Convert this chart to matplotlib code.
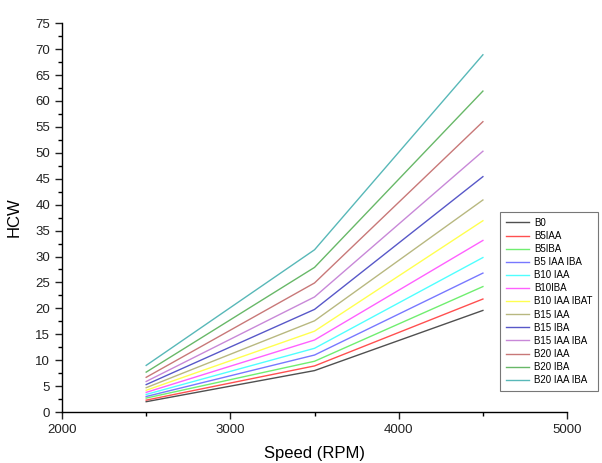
import matplotlib
matplotlib.use('Agg')
import matplotlib.pyplot as plt
from matplotlib.ticker import MultipleLocator

plt.rcParams['font.family'] = ['Liberation Sans', 'DejaVu Sans']

# ── data ───────────────────────────────────────────────────────────────────
speed = [2500, 3500, 4500]

labels = ['B0', 'B5IAA', 'B5IBA', 'B5 IAA IBA', 'B10 IAA', 'B10IBA',
          'B10 IAA IBAT', 'B15 IAA', 'B15 IBA', 'B15 IAA IBA',
          'B20 IAA', 'B20 IBA', 'B20 IAA IBA']

hcw_2500 = [2.0, 2.3, 2.7, 3.0, 3.4, 3.8, 4.2, 4.7, 5.3, 5.9, 6.7, 7.7, 9.0]
hcw_3500 = [8.0, 8.9, 9.8, 11.0, 12.3, 13.9, 15.6, 17.6, 19.8, 22.2, 24.9, 27.9, 31.3]
hcw_4500 = [19.6, 21.8, 24.2, 26.8, 29.8, 33.1, 36.9, 40.9, 45.4, 50.3, 56.0, 61.9, 68.9]

colors = ['#505050', '#ff5050', '#70ee70', '#7878ff', '#50ffff', '#ff60ff',
          '#ffff50', '#b8b880', '#5858c8', '#c888d8', '#c87878', '#68b868',
          '#58b8b8']

# ── figure ─────────────────────────────────────────────────────────────────
fig = plt.figure(figsize=(6.02, 4.63), dpi=100)
ax = fig.add_axes([0.103, 0.110, 0.839, 0.840])

for i, lbl in enumerate(labels):
    ax.plot(speed, [hcw_2500[i], hcw_3500[i], hcw_4500[i]],
            color=colors[i], lw=1.0, label=lbl)

ax.set_xlim(2000, 5000)
ax.set_ylim(0, 75)
ax.xaxis.set_major_locator(MultipleLocator(1000))
ax.xaxis.set_minor_locator(MultipleLocator(500))
ax.yaxis.set_major_locator(MultipleLocator(5))
ax.yaxis.set_minor_locator(MultipleLocator(2.5))
ax.tick_params(which='major', direction='out', length=5, width=1.0,
               labelsize=9.5, colors='#222222')
ax.tick_params(which='minor', direction='out', length=3, width=1.0)

for s in ['top', 'right']:
    ax.spines[s].set_visible(False)
for s in ['left', 'bottom']:
    ax.spines[s].set_linewidth(1.0)

ax.set_xlabel('Speed (RPM)', fontsize=12, labelpad=7)
ax.set_ylabel('HCW', fontsize=12, labelpad=10)

leg = fig.legend(loc='upper left', bbox_to_anchor=(500 / 602, 1 - 212 / 463),
                 borderaxespad=0, fontsize=7, frameon=True, fancybox=False,
                 edgecolor='#555555', handlelength=2.4, labelspacing=0.32,
                 borderpad=0.6, handletextpad=0.5)
leg.get_frame().set_linewidth(0.8)

fig.savefig('out.png', dpi=100)
